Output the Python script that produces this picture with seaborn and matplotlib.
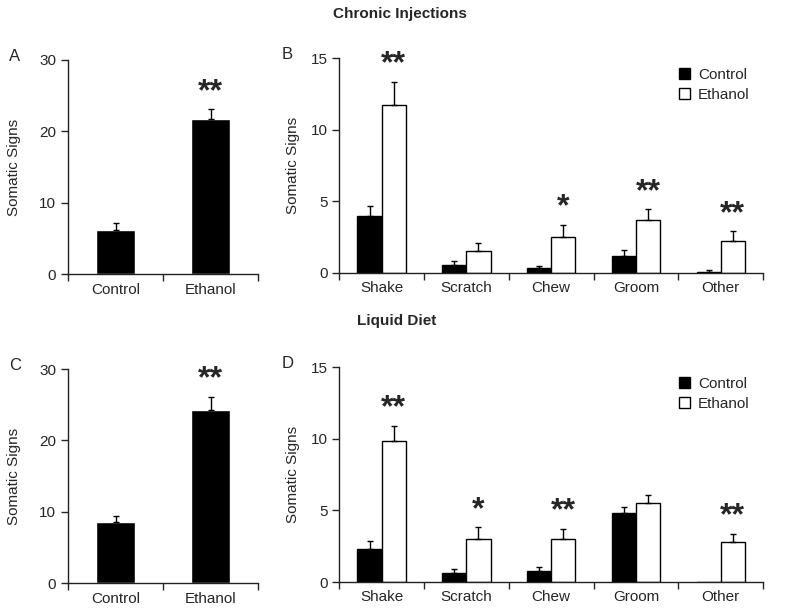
import numpy as np
import pandas as pd
import seaborn as sns
import matplotlib.pyplot as plt

# dados
grupos = ["Control", "Ethanol"]
comport = ["Shake", "Scratch", "Chew", "Groom", "Other"]

# A - injecoes cronicas, total
a_media = [6.2, 21.7]
a_erro = [0.9, 1.4]
a_sig = ["", "**"]

# B - injecoes cronicas, por comportamento
b_ctrl = [4.0, 0.55, 0.33, 1.2, 0.07]
b_ctrl_erro = [0.7, 0.25, 0.18, 0.37, 0.16]
b_etoh = [11.7, 1.56, 2.54, 3.68, 2.24]
b_etoh_erro = [1.65, 0.56, 0.84, 0.77, 0.67]
b_sig = ["**", "", "*", "**", "**"]

# C - dieta liquida, total
c_media = [8.6, 24.2]
c_erro = [0.75, 1.95]
c_sig = ["", "**"]

# D - dieta liquida, por comportamento
d_ctrl = [2.3, 0.6, 0.8, 4.8, 0.0]
d_ctrl_erro = [0.56, 0.3, 0.24, 0.44, 0.0]
d_etoh = [9.84, 3.0, 3.0, 5.49, 2.81]
d_etoh_erro = [1.07, 0.84, 0.72, 0.58, 0.56]
d_sig = ["**", "*", "**", "", "**"]

sns.set_style("ticks")
plt.rcParams['font.family'] = ['Liberation Sans', 'DejaVu Sans']
plt.rcParams['axes.linewidth'] = 1.0
plt.rcParams['axes.edgecolor'] = '#222222'

fig = plt.figure(figsize=(8, 6.12), dpi=100)
axA = fig.add_axes([0.085, 0.552, 0.2375, 0.350])
axB = fig.add_axes([0.424, 0.554, 0.530, 0.351])
axC = fig.add_axes([0.085, 0.047, 0.2375, 0.350])
axD = fig.add_axes([0.424, 0.049, 0.530, 0.351])


def estilo(ax, n, ymax, passo, xlab):
    ax.set_xlim(-0.5, n - 0.5)
    ax.set_ylim(0, ymax)
    ax.set_yticks(np.arange(0, ymax + 0.1, passo))
    ax.set_xticks(np.arange(-0.5, n), minor=True)
    ax.tick_params(axis='x', which='major', length=0, labelsize=11, pad=6)
    ax.tick_params(axis='x', which='minor', length=5, width=1, direction='out')
    ax.tick_params(axis='y', length=5, width=1, labelsize=11, direction='out')
    ax.set_xlabel("")
    ax.set_ylabel("Somatic Signs", fontsize=11)
    ax.yaxis.set_label_coords(xlab, 0.5)
    sns.despine(ax=ax)


def estrelas(ax, xs, topos, sig, ymax):
    for x, t, s in zip(xs, topos, sig):
        if s:
            ax.text(x, t + 0.08 * ymax, s, ha='center', va='center',
                    fontsize=23, fontweight='bold', clip_on=False)


def total(ax, media, erro, sig, letra):
    df = pd.DataFrame({"grupo": grupos, "valor": media})
    sns.barplot(data=df, x="grupo", y="valor", color="black", saturation=1,
                width=0.42, ax=ax, errorbar=None)
    xs = [p.get_x() + p.get_width() / 2 for p in ax.containers[0]]
    ax.errorbar(xs, media, yerr=[np.zeros(len(erro)), erro], fmt='none',
                ecolor='black', elinewidth=1, capsize=2.5, capthick=1)
    estilo(ax, len(grupos), 30, 10, -0.245)
    estrelas(ax, xs, np.array(media) + np.array(erro), sig, 30)
    ax.text(-0.31, 0.995, letra, transform=ax.transAxes, fontsize=12)


def detalhe(ax, ctrl, ctrl_e, etoh, etoh_e, sig, letra):
    df = pd.DataFrame({
        "comp": comport * 2,
        "grupo": ["Control"] * len(comport) + ["Ethanol"] * len(comport),
        "valor": ctrl + etoh,
    })
    sns.barplot(data=df, x="comp", y="valor", hue="grupo",
                palette=["black", "white"], saturation=1, width=0.57,
                edgecolor="black", linewidth=1, ax=ax, errorbar=None)
    for cont, vals, errs in zip(ax.containers, [ctrl, etoh], [ctrl_e, etoh_e]):
        xs = np.array([p.get_x() + p.get_width() / 2 for p in cont])
        vals = np.array(vals)
        errs = np.array(errs)
        m = errs > 0
        ax.errorbar(xs[m], vals[m], yerr=[np.zeros(m.sum()), errs[m]], fmt='none',
                    ecolor='black', elinewidth=1, capsize=2.5, capthick=1)
    xs_e = [p.get_x() + p.get_width() / 2 for p in ax.containers[1]]
    estilo(ax, len(comport), 15, 5, -0.093)
    estrelas(ax, xs_e, np.array(etoh) + np.array(etoh_e), sig, 15)
    ax.legend(frameon=False, loc='upper right', fontsize=11, handlelength=0.7,
              handleheight=0.7, handletextpad=0.5, labelspacing=0.4,
              bbox_to_anchor=(1.0, 1.02))
    ax.text(-0.135, 0.995, letra, transform=ax.transAxes, fontsize=12)


total(axA, a_media, a_erro, a_sig, "A")
detalhe(axB, b_ctrl, b_ctrl_erro, b_etoh, b_etoh_erro, b_sig, "B")
total(axC, c_media, c_erro, c_sig, "C")
detalhe(axD, d_ctrl, d_ctrl_erro, d_etoh, d_etoh_erro, d_sig, "D")

fig.text(0.5, 0.977, "Chronic Injections", ha='center', va='center',
         fontsize=11, fontweight='bold')
fig.text(0.496, 0.476, "Liquid Diet", ha='center', va='center',
         fontsize=11, fontweight='bold')

fig.savefig("out.png", dpi=100)
